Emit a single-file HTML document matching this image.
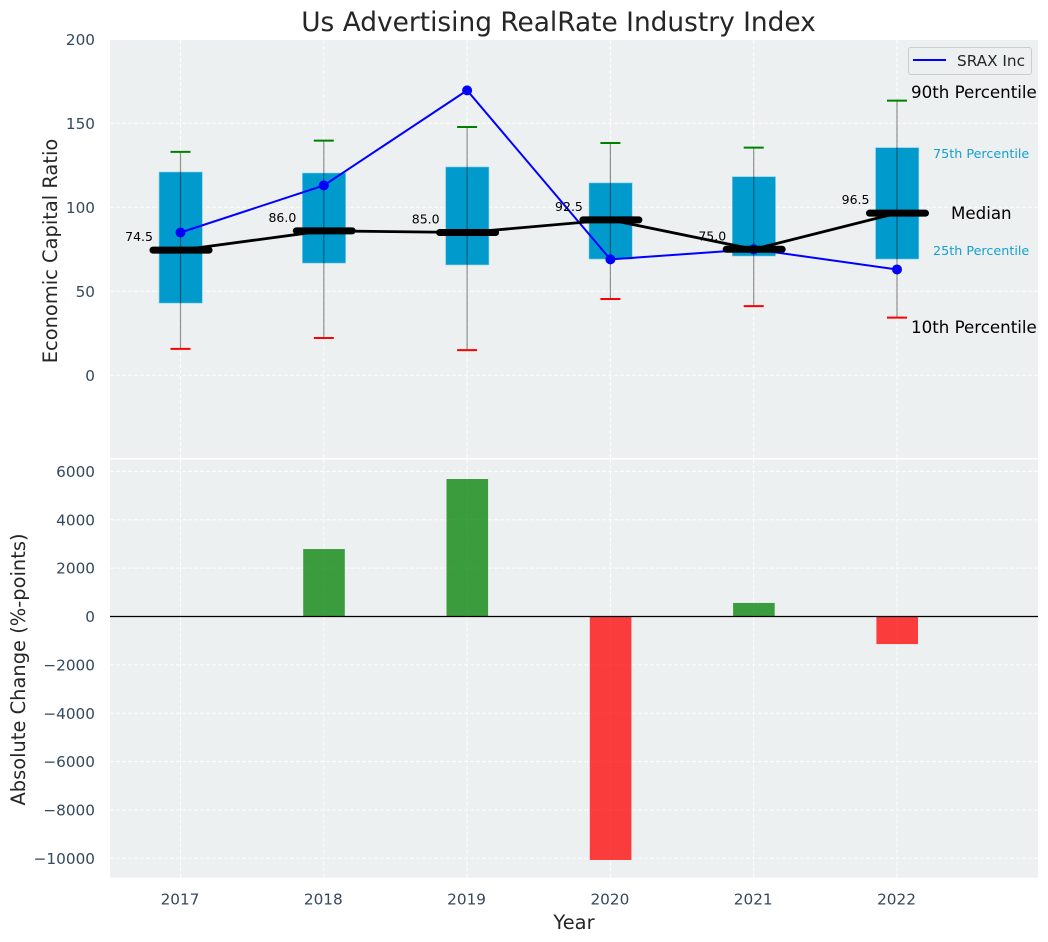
<!DOCTYPE html>
<html>
<head>
<meta charset="utf-8">
<title>Us Advertising RealRate Industry Index</title>
<style>
html,body{margin:0;padding:0;background:#fff;}
svg{display:block;font-family:"DejaVu Sans","Liberation Sans",sans-serif;}
</style>
</head>
<body>
<svg id="chart" xmlns="http://www.w3.org/2000/svg" width="1048" height="942" viewBox="0 0 1048 942">
  <rect x="0" y="0" width="1048" height="942" fill="#ffffff"/>
  <rect x="110" y="40" width="928" height="418" fill="#ecf0f1"/>
  <rect x="110" y="459.5" width="928" height="418.2" fill="#ecf0f1"/>
  <g id="grid"></g>
  <g id="bars"></g>
  <g id="boxes"></g>
  <g id="whiskers"></g>
  <g id="srax"></g>
  <g id="medians"></g>
  <g id="labels"></g>
  <line x1="110" x2="1038" y1="616.5" y2="616.5" stroke="#000" stroke-width="1.2"/>
  <text x="558.5" y="31" text-anchor="middle" font-size="26.4" fill="#262626">Us Advertising RealRate Industry Index</text>
  <text transform="translate(57,251) rotate(-90)" text-anchor="middle" font-size="19.44" fill="#262626">Economic Capital Ratio</text>
  <text transform="translate(25,669.5) rotate(-90)" text-anchor="middle" font-size="19.44" fill="#262626">Absolute Change (%-points)</text>
  <text x="574" y="929" text-anchor="middle" font-size="19.44" fill="#262626">Year</text>
  <g>
    <rect x="908.5" y="47.5" width="123" height="27" rx="2.5" fill="#ecf0f1" fill-opacity="0.85" stroke="#cccccc" stroke-width="1"/>
    <line x1="913" x2="946" y1="60" y2="60" stroke="#0000ff" stroke-width="2"/>
    <text x="957" y="66" font-size="15.28" fill="#262626">SRAX Inc</text>
  </g>
  <text x="911" y="98" font-size="16.67" fill="#000">90th Percentile</text>
  <text x="933" y="158" font-size="12.75" fill="#159fcf">75th Percentile</text>
  <text x="951" y="219" font-size="16.67" fill="#000">Median</text>
  <text x="933" y="255" font-size="12.75" fill="#159fcf">25th Percentile</text>
  <text x="911" y="333" font-size="16.67" fill="#000">10th Percentile</text>
</svg>
<script>
const years = [2017, 2018, 2019, 2020, 2021, 2022];
const p90 = [133, 139.7, 147.8, 138.3, 135.5, 163.5];
const p75 = [121, 120.4, 124, 114.5, 118.2, 135.5];
const medianValues = [74.5, 86.0, 85.0, 92.5, 75.0, 96.5];
const p25 = [43, 66.8, 65.7, 69.2, 71, 69.2];
const p10 = [15.7, 22.2, 15, 45.4, 41.2, 34.3];
const sraxValues = [85, 113, 169.6, 69, 75, 63];
const changeValues = [0, 2790, 5686, -10070, 560, -1140];
const topTicks = [0, 50, 100, 150, 200];
const bottomTicks = [-10000, -8000, -6000, -4000, -2000, 0, 2000, 4000, 6000];

const NS = 'http://www.w3.org/2000/svg';
function xScale(i) { return 180.5 + i * 143.3; }
function yTop(v) { return 375.3 - v * 1.68; }
function yBottom(v) { return 616.5 - v * 0.02418; }
function make(tag, parent, props) {
  const el = document.createElementNS(NS, tag);
  for (const k in props) el.setAttribute(k, props[k]);
  parent.appendChild(el);
  return el;
}
const gridG = document.getElementById('grid');
const barsG = document.getElementById('bars');
const boxesG = document.getElementById('boxes');
const whiskersG = document.getElementById('whiskers');
const sraxG = document.getElementById('srax');
const mediansG = document.getElementById('medians');
const labelsG = document.getElementById('labels');
const gridStyle = { stroke: '#ffffff', 'stroke-width': 1, 'stroke-dasharray': '4 2', 'stroke-opacity': 0.9 };

topTicks.forEach(function (t) {
  const y = yTop(t);
  if (y > 41) {
    const g = make('line', gridG, Object.assign({ x1: 110, x2: 1038, y1: y, y2: y }, gridStyle));
    
    
  }
  const lab = make('text', labelsG, { x: 95, y: y + 5.6, 'text-anchor': 'end', 'font-size': 15.28, fill: '#34495e' });
  
  
  lab.textContent = String(t);
});

bottomTicks.forEach(function (t) {
  const y = yBottom(t);
  const g = make('line', gridG, Object.assign({ x1: 110, x2: 1038, y1: y, y2: y }, gridStyle));
  
  
  const lab = make('text', labelsG, { x: 95, y: y + 5.6, 'text-anchor': 'end', 'font-size': 15.28, fill: '#34495e' });
  
  
  lab.textContent = String(t).replace('-', '\u2212');
});

years.forEach(function (yr, i) {
  const x = xScale(i);
  const gt = make('line', gridG, Object.assign({ x1: x, x2: x, y1: 40, y2: 458 }, gridStyle));
  
  
  const gb = make('line', gridG, Object.assign({ x1: x, x2: x, y1: 459.5, y2: 877.7 }, gridStyle));
  
  
  const lab = make('text', labelsG, { x: x - 0.5, y: 904.5, 'text-anchor': 'middle', 'font-size': 15.28, fill: '#34495e' });
  
  
  lab.textContent = String(yr);

  const v = changeValues[i];
  if (v !== 0) {
    const y0 = yBottom(0), y1 = yBottom(v);
    const bar = make('rect', barsG, {
      x: x - 20.8 + 0.2, y: Math.min(y0, y1), width: 41.6, height: Math.abs(y1 - y0),
      fill: v > 0 ? '#008000' : '#ff0000', 'fill-opacity': 0.75
    });
    
    
  }

  const top = yTop(p75[i]), bot = yTop(p25[i]);
  const box = make('rect', boxesG, {
    x: x - 21.6 + 0.2, y: top, width: 43.2, height: bot - top,
    fill: '#009acd', stroke: '#7fcce6', 'stroke-width': 0.6
  });
  
  

  const wh = make('line', whiskersG, {
    x1: x, x2: x, y1: yTop(p90[i]), y2: yTop(p10[i]),
    stroke: '#000000', 'stroke-opacity': 0.42, 'stroke-width': 1.2
  });
  
  
  const capHi = make('line', whiskersG, {
    x1: x - 10, x2: x + 10, y1: yTop(p90[i]), y2: yTop(p90[i]), stroke: '#008000', 'stroke-width': 2
  });
  
  
  const capLo = make('line', whiskersG, {
    x1: x - 10, x2: x + 10, y1: yTop(p10[i]), y2: yTop(p10[i]), stroke: '#ff0000', 'stroke-width': 2
  });
  
  
});

const sraxLine = make('polyline', sraxG, {
  points: sraxValues.map(function (v, i) { return xScale(i) + ',' + yTop(v); }).join(' '),
  fill: 'none', stroke: '#0000ff', 'stroke-width': 2
});


sraxValues.forEach(function (v, i) {
  const pt = make('circle', sraxG, { cx: xScale(i), cy: yTop(v), r: 5, fill: '#0000ff' });
  
  
});

const medLine = make('polyline', mediansG, {
  points: medianValues.map(function (v, i) { return xScale(i) + ',' + yTop(v); }).join(' '),
  fill: 'none', stroke: '#000000', 'stroke-width': 2.8
});


medianValues.forEach(function (v, i) {
  const x = xScale(i), y = yTop(v);
  const m = make('line', mediansG, {
    x1: x - 27.5, x2: x + 28.5, y1: y, y2: y, stroke: '#000000', 'stroke-width': 7, 'stroke-linecap': 'round'
  });
  
  
  const t = make('text', mediansG, {
    x: x - 27.5, y: y - 9, 'text-anchor': 'end', 'font-size': 12.5, fill: '#000000'
  });
  
  
  t.textContent = v.toFixed(1);
});
</script>
</body>
</html>
